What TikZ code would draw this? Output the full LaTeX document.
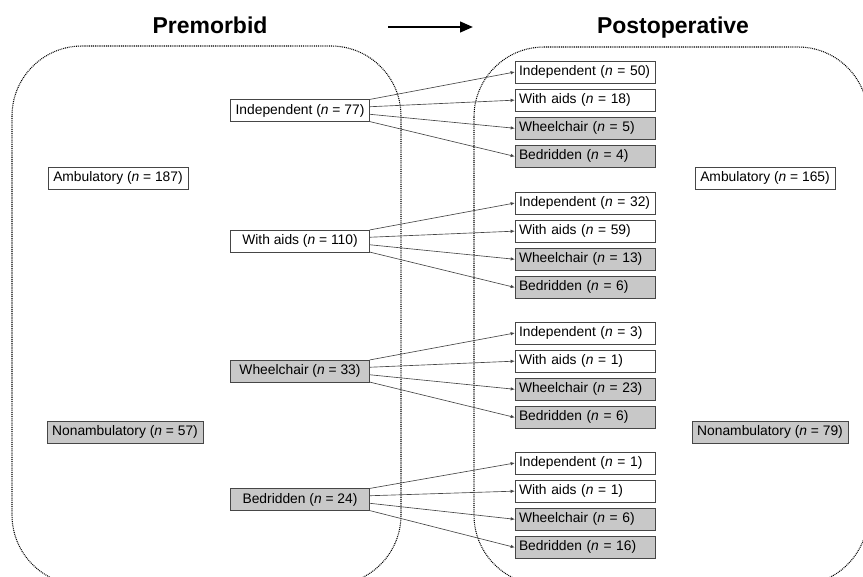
\documentclass[tikz,border=0pt]{standalone}
\usepackage{fontspec}
\setmainfont{Liberation Sans}
\usetikzlibrary{positioning,calc,arrows.meta}

\definecolor{boxgray}{RGB}{200,200,200}
\definecolor{edgegray}{RGB}{70,70,70}
\newcommand{\ncount}[1]{(\textit{n} = #1)}

\begin{document}
\begin{tikzpicture}[
  x=0.03cm, y=-0.03cm,
  font=\fontsize{11.8}{14}\selectfont,
  node distance=0.18cm,
  state/.style={draw=edgegray, fill=white, minimum height=0.65cm, inner xsep=0.15cm, inner ysep=0pt},
  impaired/.style={fill=boxgray},
  prebox/.style={state, minimum width=4.17cm},
  postbox/.style={state, inner xsep=0.12cm, text width=3.96cm, align=left},
  title/.style={anchor=base, font=\fontsize{19.6}{22}\selectfont\bfseries},
  phase/.style={draw=black, line width=0.9pt, dash pattern=on 0.8pt off 0.8pt, rounded corners=2.1cm},
  rel/.style={-{Latex[length=3.5pt,width=3pt]}, draw=edgegray, line width=0.55pt}
]
\clip (0,0) rectangle (863,576);
\useasboundingbox (0,0) rectangle (863,576);

\node[title] (pretitle) at (210,33) {Premorbid};
\node[title] (posttitle) at (673,33) {Postoperative};
\coordinate (arrowstart) at (388,27);
\coordinate (arrowend) at (473,27);
\draw[-{Triangle[length=11pt,width=9pt]}, line width=2pt] (arrowstart) -- (arrowend);

\draw[phase] (12,46) rectangle (401,585);
\draw[phase] (474,47) rectangle (868,585);

\node[state] (preamb) at (118,178) {Ambulatory \ncount{187}};
\node[state, impaired] (prenon) at (125,432) {Nonambulatory \ncount{57}};
\node[state] (postamb) at (765,178) {Ambulatory \ncount{165}};
\node[state, impaired] (postnon) at (770,432) {Nonambulatory \ncount{79}};

\node[prebox] (pind) at (300,110.5) {Independent \ncount{77}};
\node[prebox] (paid) at (300,241) {With aids \ncount{110}};
\node[prebox, impaired] (pwc) at (300,371) {Wheelchair \ncount{33}};
\node[prebox, impaired] (pbed) at (300,499.5) {Bedridden \ncount{24}};

\node[postbox] (iind) at (585,72) {Independent \ncount{50}};
\node[postbox, below=of iind] (iaid) {With aids \ncount{18}};
\node[postbox, impaired, below=of iaid] (iwc) {Wheelchair \ncount{5}};
\node[postbox, impaired, below=of iwc] (ibed) {Bedridden \ncount{4}};

\node[postbox] (aind) at (585,203) {Independent \ncount{32}};
\node[postbox, below=of aind] (aaid) {With aids \ncount{59}};
\node[postbox, impaired, below=of aaid] (awc) {Wheelchair \ncount{13}};
\node[postbox, impaired, below=of awc] (abed) {Bedridden \ncount{6}};

\node[postbox] (wind) at (585,333) {Independent \ncount{3}};
\node[postbox, below=of wind] (waid) {With aids \ncount{1}};
\node[postbox, impaired, below=of waid] (wwc) {Wheelchair \ncount{23}};
\node[postbox, impaired, below=of wwc] (wbed) {Bedridden \ncount{6}};

\node[postbox] (bind) at (585,463) {Independent \ncount{1}};
\node[postbox, below=of bind] (baid) {With aids \ncount{1}};
\node[postbox, impaired, below=of baid] (bwc) {Wheelchair \ncount{6}};
\node[postbox, impaired, below=of bwc] (bbed) {Bedridden \ncount{16}};

\draw[rel] (pind.north east) -- (iind.west);
\draw[rel] ($(pind.north east)!0.33!(pind.south east)$) -- (iaid.west);
\draw[rel] ($(pind.north east)!0.67!(pind.south east)$) -- (iwc.west);
\draw[rel] (pind.south east) -- (ibed.west);

\draw[rel] (paid.north east) -- (aind.west);
\draw[rel] ($(paid.north east)!0.33!(paid.south east)$) -- (aaid.west);
\draw[rel] ($(paid.north east)!0.67!(paid.south east)$) -- (awc.west);
\draw[rel] (paid.south east) -- (abed.west);

\draw[rel] (pwc.north east) -- (wind.west);
\draw[rel] ($(pwc.north east)!0.33!(pwc.south east)$) -- (waid.west);
\draw[rel] ($(pwc.north east)!0.67!(pwc.south east)$) -- (wwc.west);
\draw[rel] (pwc.south east) -- (wbed.west);

\draw[rel] (pbed.north east) -- (bind.west);
\draw[rel] ($(pbed.north east)!0.33!(pbed.south east)$) -- (baid.west);
\draw[rel] ($(pbed.north east)!0.67!(pbed.south east)$) -- (bwc.west);
\draw[rel] (pbed.south east) -- (bbed.west);
\end{tikzpicture}
\end{document}
